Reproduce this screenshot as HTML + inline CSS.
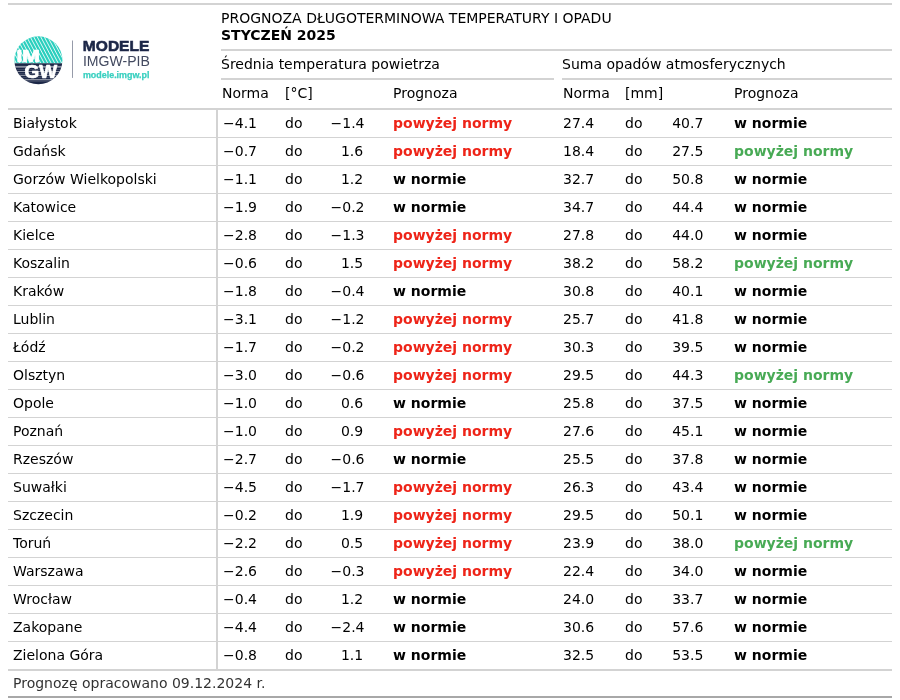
<!DOCTYPE html>
<html lang="pl"><head><meta charset="utf-8"><title>Prognoza długoterminowa</title>
<style>
html,body{margin:0;padding:0;background:#fff}
body{width:900px;height:700px;position:relative;overflow:hidden;font-family:"DejaVu Sans","Liberation Sans",sans-serif;font-size:14px;color:#000}
.l{position:absolute;background:#d3d3d3}
.t{position:absolute;white-space:nowrap;line-height:28px;height:28px}
.row{position:absolute;left:0;width:900px;height:28px;line-height:28px}
.row span{position:absolute;top:0;white-space:nowrap}
.c0{left:13px}.c1{left:223px}.c2{left:285px}.c3{right:535.5px;text-align:right}.c3.ps{right:536.8px}.c4{left:393px;font-weight:bold}
.c5{left:563px}.c6{left:625px}.c7{right:196.7px;text-align:right}.c8{left:734px;font-weight:bold}
.r{color:#ee2418}.g{color:#48aa55}.k{color:#000}
</style></head>
<body>
<div class="l" style="left:8px;top:3px;width:884px;height:2px"></div>
<div class="l" style="left:221px;top:49px;width:671px;height:2px"></div>
<div class="l" style="left:221px;top:78px;width:333px;height:2px"></div>
<div class="l" style="left:562px;top:78px;width:330px;height:2px"></div>
<div class="l" style="left:8px;top:108px;width:884px;height:2px"></div>
<div class="l" style="left:216px;top:109px;width:2px;height:561px"></div>
<div class="l" style="left:8px;top:137px;width:884px;height:1px"></div>
<div class="l" style="left:8px;top:165px;width:884px;height:1px"></div>
<div class="l" style="left:8px;top:193px;width:884px;height:1px"></div>
<div class="l" style="left:8px;top:221px;width:884px;height:1px"></div>
<div class="l" style="left:8px;top:249px;width:884px;height:1px"></div>
<div class="l" style="left:8px;top:277px;width:884px;height:1px"></div>
<div class="l" style="left:8px;top:305px;width:884px;height:1px"></div>
<div class="l" style="left:8px;top:333px;width:884px;height:1px"></div>
<div class="l" style="left:8px;top:361px;width:884px;height:1px"></div>
<div class="l" style="left:8px;top:389px;width:884px;height:1px"></div>
<div class="l" style="left:8px;top:417px;width:884px;height:1px"></div>
<div class="l" style="left:8px;top:445px;width:884px;height:1px"></div>
<div class="l" style="left:8px;top:473px;width:884px;height:1px"></div>
<div class="l" style="left:8px;top:501px;width:884px;height:1px"></div>
<div class="l" style="left:8px;top:529px;width:884px;height:1px"></div>
<div class="l" style="left:8px;top:557px;width:884px;height:1px"></div>
<div class="l" style="left:8px;top:585px;width:884px;height:1px"></div>
<div class="l" style="left:8px;top:613px;width:884px;height:1px"></div>
<div class="l" style="left:8px;top:641px;width:884px;height:1px"></div>
<div class="l" style="left:8px;top:669px;width:884px;height:2px"></div>
<div class="l" style="left:8px;top:696px;width:884px;height:2px;background:#a8a8a8"></div>
<svg style="position:absolute;left:0;top:28px" width="170" height="64" viewBox="0 28 170 64">
<defs><filter id="bl" x="0" y="30" width="70" height="40" filterUnits="userSpaceOnUse"><feGaussianBlur stdDeviation="0.3"/></filter><clipPath id="cc"><circle cx="38.4" cy="60.3" r="24"/></clipPath><clipPath id="ct"><rect x="14" y="36" width="49" height="27.3"/></clipPath></defs>
<g clip-path="url(#cc)">
<rect x="14" y="36" width="49" height="27.3" fill="#2bcfbe"/>
<g clip-path="url(#ct)"><path d="M-10.30 33L7.72 67M-6.80 33L11.22 67M-3.30 33L14.72 67M0.20 33L18.22 67M3.70 33L21.72 67M7.20 33L25.22 67M10.70 33L28.72 67M14.20 33L32.22 67M17.70 33L35.72 67M21.20 33L39.22 67M24.70 33L42.72 67M28.20 33L46.22 67M31.70 33L49.72 67M35.20 33L53.22 67M38.70 33L56.72 67M42.20 33L60.22 67M45.70 33L63.72 67M49.20 33L67.22 67M52.70 33L70.72 67M56.20 33L74.22 67M59.70 33L77.72 67M63.20 33L81.22 67" stroke="#fff" stroke-opacity="0.92" stroke-width="0.95" fill="none" filter="url(#bl)"/></g>
<rect x="14" y="63.3" width="49" height="22" fill="#1c2747"/>
<g fill="#fff">
<rect x="14" y="65.9" width="49" height="1.8" fill-opacity="0.5"/>
<rect x="14" y="69.2" width="49" height="0.5" fill-opacity="0.3"/>
<rect x="14" y="71.0" width="49" height="0.7" fill-opacity="0.75"/>
<rect x="14" y="73.1" width="49" height="0.5" fill-opacity="0.3"/>
<rect x="14" y="74.9" width="49" height="0.7" fill-opacity="0.8"/>
<rect x="14" y="77.0" width="49" height="0.5" fill-opacity="0.3"/>
<rect x="14" y="79.2" width="49" height="1.1" fill-opacity="0.6"/>
<rect x="14" y="81.1" width="49" height="0.5" fill-opacity="0.25"/>
</g>
</g>
<g font-family="'Liberation Sans',Arial,sans-serif" font-weight="bold" fill="#fff" stroke="#fff" stroke-width="0.7" stroke-linejoin="round">
<text x="16.5" y="61.9" font-size="15.8" textLength="23.4" lengthAdjust="spacingAndGlyphs">IM</text>
<text x="24.5" y="78.1" font-size="17.8" textLength="32.6" lengthAdjust="spacingAndGlyphs">GW</text>
</g>
<rect x="72" y="40.5" width="0.9" height="37.4" fill="#8b90a0"/>
<g font-family="'Liberation Sans',Arial,sans-serif">
<text x="82.8" y="51.3" font-size="15.3" font-weight="bold" fill="#1c2747" stroke="#1c2747" stroke-width="0.6" textLength="66.6" lengthAdjust="spacingAndGlyphs">MODELE</text>
<text x="82.9" y="66.3" font-size="14.5" fill="#434a60" textLength="67" lengthAdjust="spacingAndGlyphs">IMGW-PIB</text>
<text x="82.9" y="77.6" font-size="8.4" font-weight="bold" fill="#3ad0c0" stroke="#3ad0c0" stroke-width="0.25" textLength="66.6" lengthAdjust="spacingAndGlyphs">modele.imgw.pl</text>
</g>
</svg>
<div class="t" style="left:221px;top:4px">PROGNOZA DŁUGOTERMINOWA TEMPERATURY I OPADU</div>
<div class="t" style="left:221px;top:21px;font-weight:bold">STYCZEŃ 2025</div>
<div class="t" style="left:221px;top:50px">Średnia temperatura powietrza</div>
<div class="t" style="left:562px;top:50px">Suma opadów atmosferycznych</div>
<div class="t" style="left:222px;top:79px">Norma</div>
<div class="t" style="left:285px;top:79px">[°C]</div>
<div class="t" style="left:393px;top:79px">Prognoza</div>
<div class="t" style="left:563px;top:79px">Norma</div>
<div class="t" style="left:625px;top:79px">[mm]</div>
<div class="t" style="left:734px;top:79px">Prognoza</div>
<div class="row" style="top:109px"><span class="c0">Białystok</span><span class="c1">−4.1</span><span class="c2">do</span><span class="c3">−1.4</span><span class="c4 r">powyżej normy</span><span class="c5">27.4</span><span class="c6">do</span><span class="c7">40.7</span><span class="c8 k">w normie</span></div>
<div class="row" style="top:137px"><span class="c0">Gdańsk</span><span class="c1">−0.7</span><span class="c2">do</span><span class="c3 ps">1.6</span><span class="c4 r">powyżej normy</span><span class="c5">18.4</span><span class="c6">do</span><span class="c7">27.5</span><span class="c8 g">powyżej normy</span></div>
<div class="row" style="top:165px"><span class="c0">Gorzów Wielkopolski</span><span class="c1">−1.1</span><span class="c2">do</span><span class="c3 ps">1.2</span><span class="c4 k">w normie</span><span class="c5">32.7</span><span class="c6">do</span><span class="c7">50.8</span><span class="c8 k">w normie</span></div>
<div class="row" style="top:193px"><span class="c0">Katowice</span><span class="c1">−1.9</span><span class="c2">do</span><span class="c3">−0.2</span><span class="c4 k">w normie</span><span class="c5">34.7</span><span class="c6">do</span><span class="c7">44.4</span><span class="c8 k">w normie</span></div>
<div class="row" style="top:221px"><span class="c0">Kielce</span><span class="c1">−2.8</span><span class="c2">do</span><span class="c3">−1.3</span><span class="c4 r">powyżej normy</span><span class="c5">27.8</span><span class="c6">do</span><span class="c7">44.0</span><span class="c8 k">w normie</span></div>
<div class="row" style="top:249px"><span class="c0">Koszalin</span><span class="c1">−0.6</span><span class="c2">do</span><span class="c3 ps">1.5</span><span class="c4 r">powyżej normy</span><span class="c5">38.2</span><span class="c6">do</span><span class="c7">58.2</span><span class="c8 g">powyżej normy</span></div>
<div class="row" style="top:277px"><span class="c0">Kraków</span><span class="c1">−1.8</span><span class="c2">do</span><span class="c3">−0.4</span><span class="c4 k">w normie</span><span class="c5">30.8</span><span class="c6">do</span><span class="c7">40.1</span><span class="c8 k">w normie</span></div>
<div class="row" style="top:305px"><span class="c0">Lublin</span><span class="c1">−3.1</span><span class="c2">do</span><span class="c3">−1.2</span><span class="c4 r">powyżej normy</span><span class="c5">25.7</span><span class="c6">do</span><span class="c7">41.8</span><span class="c8 k">w normie</span></div>
<div class="row" style="top:333px"><span class="c0">Łódź</span><span class="c1">−1.7</span><span class="c2">do</span><span class="c3">−0.2</span><span class="c4 r">powyżej normy</span><span class="c5">30.3</span><span class="c6">do</span><span class="c7">39.5</span><span class="c8 k">w normie</span></div>
<div class="row" style="top:361px"><span class="c0">Olsztyn</span><span class="c1">−3.0</span><span class="c2">do</span><span class="c3">−0.6</span><span class="c4 r">powyżej normy</span><span class="c5">29.5</span><span class="c6">do</span><span class="c7">44.3</span><span class="c8 g">powyżej normy</span></div>
<div class="row" style="top:389px"><span class="c0">Opole</span><span class="c1">−1.0</span><span class="c2">do</span><span class="c3 ps">0.6</span><span class="c4 k">w normie</span><span class="c5">25.8</span><span class="c6">do</span><span class="c7">37.5</span><span class="c8 k">w normie</span></div>
<div class="row" style="top:417px"><span class="c0">Poznań</span><span class="c1">−1.0</span><span class="c2">do</span><span class="c3 ps">0.9</span><span class="c4 r">powyżej normy</span><span class="c5">27.6</span><span class="c6">do</span><span class="c7">45.1</span><span class="c8 k">w normie</span></div>
<div class="row" style="top:445px"><span class="c0">Rzeszów</span><span class="c1">−2.7</span><span class="c2">do</span><span class="c3">−0.6</span><span class="c4 k">w normie</span><span class="c5">25.5</span><span class="c6">do</span><span class="c7">37.8</span><span class="c8 k">w normie</span></div>
<div class="row" style="top:473px"><span class="c0">Suwałki</span><span class="c1">−4.5</span><span class="c2">do</span><span class="c3">−1.7</span><span class="c4 r">powyżej normy</span><span class="c5">26.3</span><span class="c6">do</span><span class="c7">43.4</span><span class="c8 k">w normie</span></div>
<div class="row" style="top:501px"><span class="c0">Szczecin</span><span class="c1">−0.2</span><span class="c2">do</span><span class="c3 ps">1.9</span><span class="c4 r">powyżej normy</span><span class="c5">29.5</span><span class="c6">do</span><span class="c7">50.1</span><span class="c8 k">w normie</span></div>
<div class="row" style="top:529px"><span class="c0">Toruń</span><span class="c1">−2.2</span><span class="c2">do</span><span class="c3 ps">0.5</span><span class="c4 r">powyżej normy</span><span class="c5">23.9</span><span class="c6">do</span><span class="c7">38.0</span><span class="c8 g">powyżej normy</span></div>
<div class="row" style="top:557px"><span class="c0">Warszawa</span><span class="c1">−2.6</span><span class="c2">do</span><span class="c3">−0.3</span><span class="c4 r">powyżej normy</span><span class="c5">22.4</span><span class="c6">do</span><span class="c7">34.0</span><span class="c8 k">w normie</span></div>
<div class="row" style="top:585px"><span class="c0">Wrocław</span><span class="c1">−0.4</span><span class="c2">do</span><span class="c3 ps">1.2</span><span class="c4 k">w normie</span><span class="c5">24.0</span><span class="c6">do</span><span class="c7">33.7</span><span class="c8 k">w normie</span></div>
<div class="row" style="top:613px"><span class="c0">Zakopane</span><span class="c1">−4.4</span><span class="c2">do</span><span class="c3">−2.4</span><span class="c4 k">w normie</span><span class="c5">30.6</span><span class="c6">do</span><span class="c7">57.6</span><span class="c8 k">w normie</span></div>
<div class="row" style="top:641px"><span class="c0">Zielona Góra</span><span class="c1">−0.8</span><span class="c2">do</span><span class="c3 ps">1.1</span><span class="c4 k">w normie</span><span class="c5">32.5</span><span class="c6">do</span><span class="c7">53.5</span><span class="c8 k">w normie</span></div>
<div class="t" style="left:13px;top:669px;color:#333">Prognozę opracowano 09.12.2024 r.</div>
</body></html>
